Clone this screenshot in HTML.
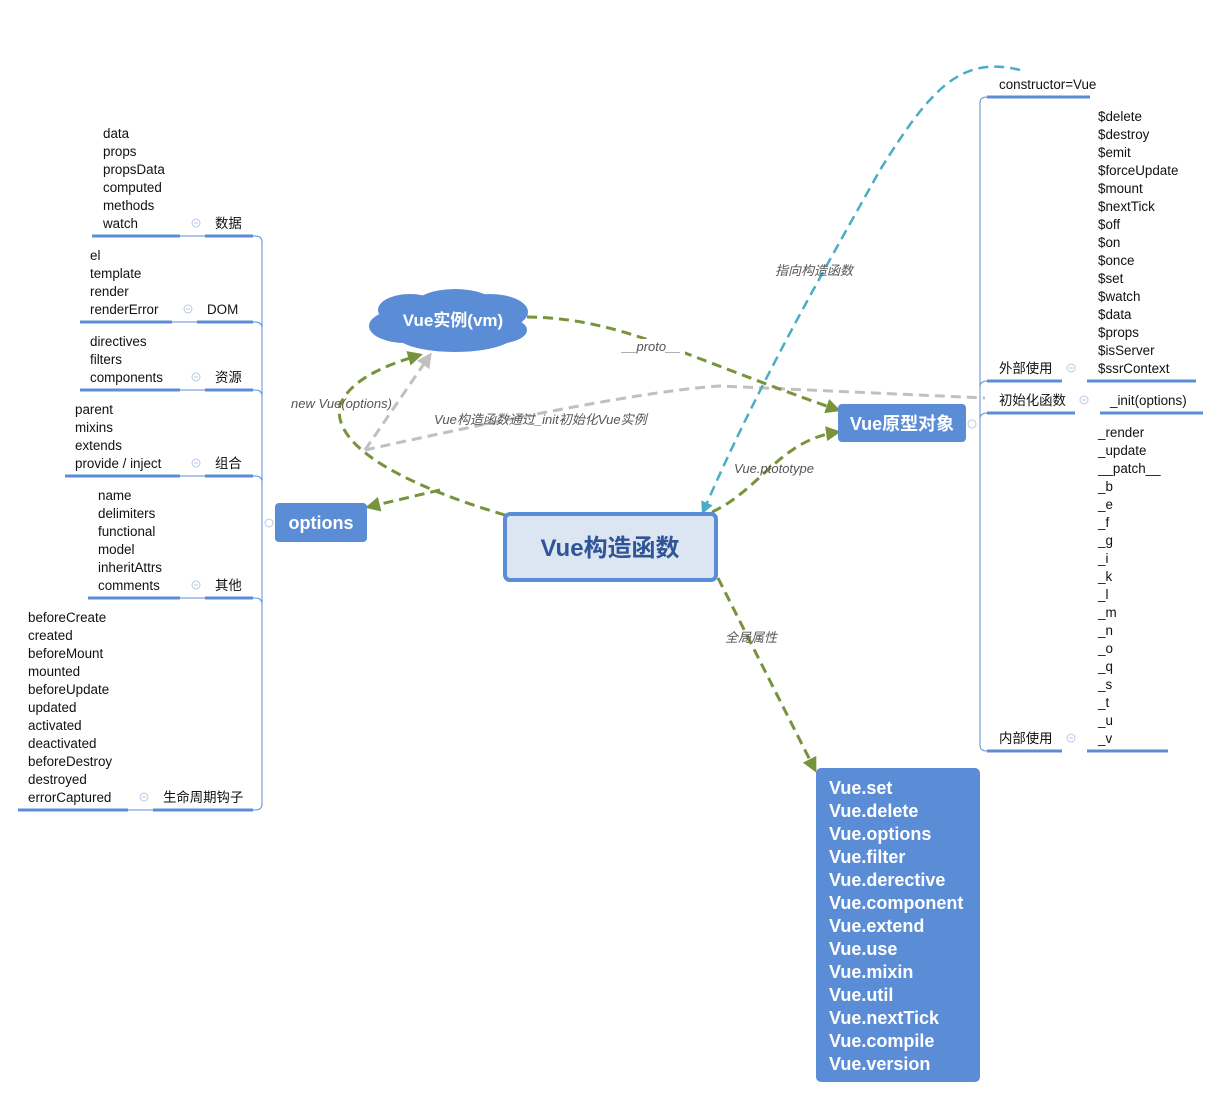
<!DOCTYPE html>
<html><head><meta charset="utf-8"><style>
html,body{margin:0;padding:0;background:#fff;width:1221px;height:1099px;overflow:hidden}
svg{display:block}
text{font-family:"Liberation Sans","Noto Sans CJK SC",sans-serif;font-size:13.4px;fill:#111}
.it{font-style:italic;fill:#555;font-size:13px}
.w{fill:#fff;font-weight:bold}
</style></head><body>
<svg width="1221" height="1099" viewBox="0 0 1221 1099" xmlns="http://www.w3.org/2000/svg">
<defs>
<marker id="ag" viewBox="0 0 10 10" refX="8" refY="5" markerWidth="5" markerHeight="5" orient="auto"><path d="M0,0L10,5L0,10z" fill="#77933c"/></marker>
<marker id="agr" viewBox="0 0 10 10" refX="8" refY="5" markerWidth="5" markerHeight="5" orient="auto"><path d="M0,0L10,5L0,10z" fill="#c0c0c0"/></marker>
<marker id="ab" viewBox="0 0 10 10" refX="8" refY="5" markerWidth="5" markerHeight="5" orient="auto"><path d="M0,0L10,5L0,10z" fill="#4bacc6"/></marker>
</defs>

<!-- left tree -->
<g stroke="#5b8dd6" fill="none">
<path d="M262,240 V806" stroke-width="1"/>
<path d="M180,236 H255 Q262,236 262,242 M172,322 H255 Q262,322 262,328 M180,390 H255 Q262,390 262,396 M180,476 H255 Q262,476 262,482 M180,598 H255 Q262,598 262,604 M128,810 H255 Q262,810 262,804" stroke-width="1"/>
<g stroke-width="3">
<path d="M92,236H180M205,236H253"/>
<path d="M80,322H172M197,322H253"/>
<path d="M80,390H180M205,390H253"/>
<path d="M65,476H180M205,476H253"/>
<path d="M88,598H180M205,598H253"/>
<path d="M18,810H128M153,810H253"/>
</g>
</g>
<g>
<text x="103" y="138">data</text><text x="103" y="156">props</text><text x="103" y="174">propsData</text><text x="103" y="192">computed</text><text x="103" y="210">methods</text><text x="103" y="228">watch</text><text x="215" y="228">数据</text>
<text x="90" y="260">el</text><text x="90" y="278">template</text><text x="90" y="296">render</text><text x="90" y="314">renderError</text><text x="207" y="314">DOM</text>
<text x="90" y="346">directives</text><text x="90" y="364">filters</text><text x="90" y="382">components</text><text x="215" y="382">资源</text>
<text x="75" y="414">parent</text><text x="75" y="432">mixins</text><text x="75" y="450">extends</text><text x="75" y="468">provide / inject</text><text x="215" y="468">组合</text>
<text x="98" y="500">name</text><text x="98" y="518">delimiters</text><text x="98" y="536">functional</text><text x="98" y="554">model</text><text x="98" y="572">inheritAttrs</text><text x="98" y="590">comments</text><text x="215" y="590">其他</text>
<text x="28" y="622">beforeCreate</text><text x="28" y="640">created</text><text x="28" y="658">beforeMount</text><text x="28" y="676">mounted</text><text x="28" y="694">beforeUpdate</text><text x="28" y="712">updated</text><text x="28" y="730">activated</text><text x="28" y="748">deactivated</text><text x="28" y="766">beforeDestroy</text><text x="28" y="784">destroyed</text><text x="28" y="802">errorCaptured</text><text x="163" y="802">生命周期钩子</text>
</g>
<g fill="none" stroke="#b8c8e6" stroke-width="1">
<circle cx="196" cy="223" r="4"/><circle cx="188" cy="309" r="4"/><circle cx="196" cy="377" r="4"/><circle cx="196" cy="463" r="4"/><circle cx="196" cy="585" r="4"/><circle cx="144" cy="797" r="4"/><circle cx="269" cy="523" r="4"/><circle cx="972" cy="424" r="4"/>
<circle cx="1071" cy="368" r="4"/><circle cx="1084" cy="400" r="4"/><circle cx="1071" cy="738" r="4"/>
<path d="M194,223h4M186,309h4M194,377h4M194,463h4M194,585h4M142,797h4M1069,368h4M1082,400h4M1069,738h4"/>
</g>

<!-- right tree -->
<g stroke="#5b8dd6" fill="none">
<path d="M980,103 V745" stroke-width="1"/>
<path d="M987,97 Q980,97 980,103 M987,381 Q980,381 980,387 M987,413 Q980,413 980,419 M987,751 Q980,751 980,745" stroke-width="1"/>
<g stroke-width="3">
<path d="M987,97H1090"/>
<path d="M987,381H1062M1087,381H1196"/>
<path d="M987,413H1075M1100,413H1203"/>
<path d="M987,751H1062M1087,751H1168"/>
</g>
</g>
<g>
<text x="999" y="89">constructor=Vue</text>
<text x="1098" y="121">$delete</text><text x="1098" y="139">$destroy</text><text x="1098" y="157">$emit</text><text x="1098" y="175">$forceUpdate</text><text x="1098" y="193">$mount</text><text x="1098" y="211">$nextTick</text><text x="1098" y="229">$off</text><text x="1098" y="247">$on</text><text x="1098" y="265">$once</text><text x="1098" y="283">$set</text><text x="1098" y="301">$watch</text><text x="1098" y="319">$data</text><text x="1098" y="337">$props</text><text x="1098" y="355">$isServer</text><text x="1098" y="373">$ssrContext</text>
<text x="999" y="373">外部使用</text>
<text x="999" y="405">初始化函数</text><text x="1110" y="405">_init(options)</text>
<text x="1098" y="437">_render</text><text x="1098" y="455">_update</text><text x="1098" y="473">__patch__</text><text x="1098" y="491">_b</text><text x="1098" y="509">_e</text><text x="1098" y="527">_f</text><text x="1098" y="545">_g</text><text x="1098" y="563">_i</text><text x="1098" y="581">_k</text><text x="1098" y="599">_l</text><text x="1098" y="617">_m</text><text x="1098" y="635">_n</text><text x="1098" y="653">_o</text><text x="1098" y="671">_q</text><text x="1098" y="689">_s</text><text x="1098" y="707">_t</text><text x="1098" y="725">_u</text><text x="1098" y="743">_v</text>
<text x="999" y="743">内部使用</text>
</g>

<!-- connectors -->
<g fill="none" stroke-width="3" stroke-dasharray="10,6">
<path d="M365,450 L430,355" stroke="#c0c0c0" marker-end="url(#agr)"/>
<path d="M365,450 C500,420 650,390 720,386 L985,398" stroke="#c0c0c0"/>
<path d="M1020,70 C960,55 930,90 880,170 C830,260 760,380 703,512" stroke="#4bacc6" marker-end="url(#ab)" stroke-width="2.5"/>
<path d="M505,515 C420,490 330,450 340,405 C350,380 385,365 420,355" stroke="#77933c" marker-end="url(#ag)"/>
<path d="M440,490 L368,507" stroke="#77933c" marker-end="url(#ag)"/>
<path d="M527,317 C620,318 680,355 838,410" stroke="#77933c" marker-end="url(#ag)"/>
<path d="M712,512 C760,490 780,440 838,432" stroke="#77933c" marker-end="url(#ag)"/>
<path d="M718,578 L815,770" stroke="#77933c" marker-end="url(#ag)"/>
</g>
<g>
<rect x="620" y="339" width="65" height="16" fill="#fff"/>
<text class="it" x="622" y="351">__proto__</text>
<text class="it" x="291" y="408">new Vue(options)</text>
<text class="it" x="434" y="424">Vue构造函数通过_init初始化Vue实例</text>
<text class="it" x="775" y="275">指向构造函数</text>
<text class="it" x="734" y="473">Vue.ptototype</text>
<text class="it" x="725" y="642">全局属性</text>
</g>

<!-- nodes -->
<g fill="#5b8dd6">
<ellipse cx="405" cy="326" rx="36" ry="17"/><ellipse cx="490" cy="312" rx="38" ry="18"/><ellipse cx="455" cy="307" rx="42" ry="18"/><ellipse cx="455" cy="334" rx="60" ry="18"/><ellipse cx="410" cy="310" rx="32" ry="16"/><ellipse cx="495" cy="330" rx="32" ry="14"/>
</g>
<text class="w" x="453" y="326" text-anchor="middle" style="font-size:17px">Vue实例(vm)</text>
<rect x="275" y="503" width="92" height="39" rx="4" fill="#5b8dd6"/>
<text class="w" x="321" y="529" text-anchor="middle" style="font-size:18px">options</text>
<rect x="838" y="404" width="128" height="38" rx="4" fill="#5b8dd6"/>
<text class="w" x="902" y="430" text-anchor="middle" style="font-size:18px">Vue原型对象</text>
<rect x="505" y="514" width="211" height="66" rx="5" fill="#dce6f2" stroke="#5b8dd6" stroke-width="4"/>
<text x="610" y="556" text-anchor="middle" style="font-size:24px;font-weight:bold;fill:#2f5597">Vue构造函数</text>
<rect x="816" y="768" width="164" height="314" rx="5" fill="#5b8dd6"/>
<g>
<text class="w" x="829" y="794" style="font-size:18px">Vue.set</text>
<text class="w" x="829" y="817" style="font-size:18px">Vue.delete</text>
<text class="w" x="829" y="840" style="font-size:18px">Vue.options</text>
<text class="w" x="829" y="863" style="font-size:18px">Vue.filter</text>
<text class="w" x="829" y="886" style="font-size:18px">Vue.derective</text>
<text class="w" x="829" y="909" style="font-size:18px">Vue.component</text>
<text class="w" x="829" y="932" style="font-size:18px">Vue.extend</text>
<text class="w" x="829" y="955" style="font-size:18px">Vue.use</text>
<text class="w" x="829" y="978" style="font-size:18px">Vue.mixin</text>
<text class="w" x="829" y="1001" style="font-size:18px">Vue.util</text>
<text class="w" x="829" y="1024" style="font-size:18px">Vue.nextTick</text>
<text class="w" x="829" y="1047" style="font-size:18px">Vue.compile</text>
<text class="w" x="829" y="1070" style="font-size:18px">Vue.version</text>
</g>
</svg>
</body></html>
